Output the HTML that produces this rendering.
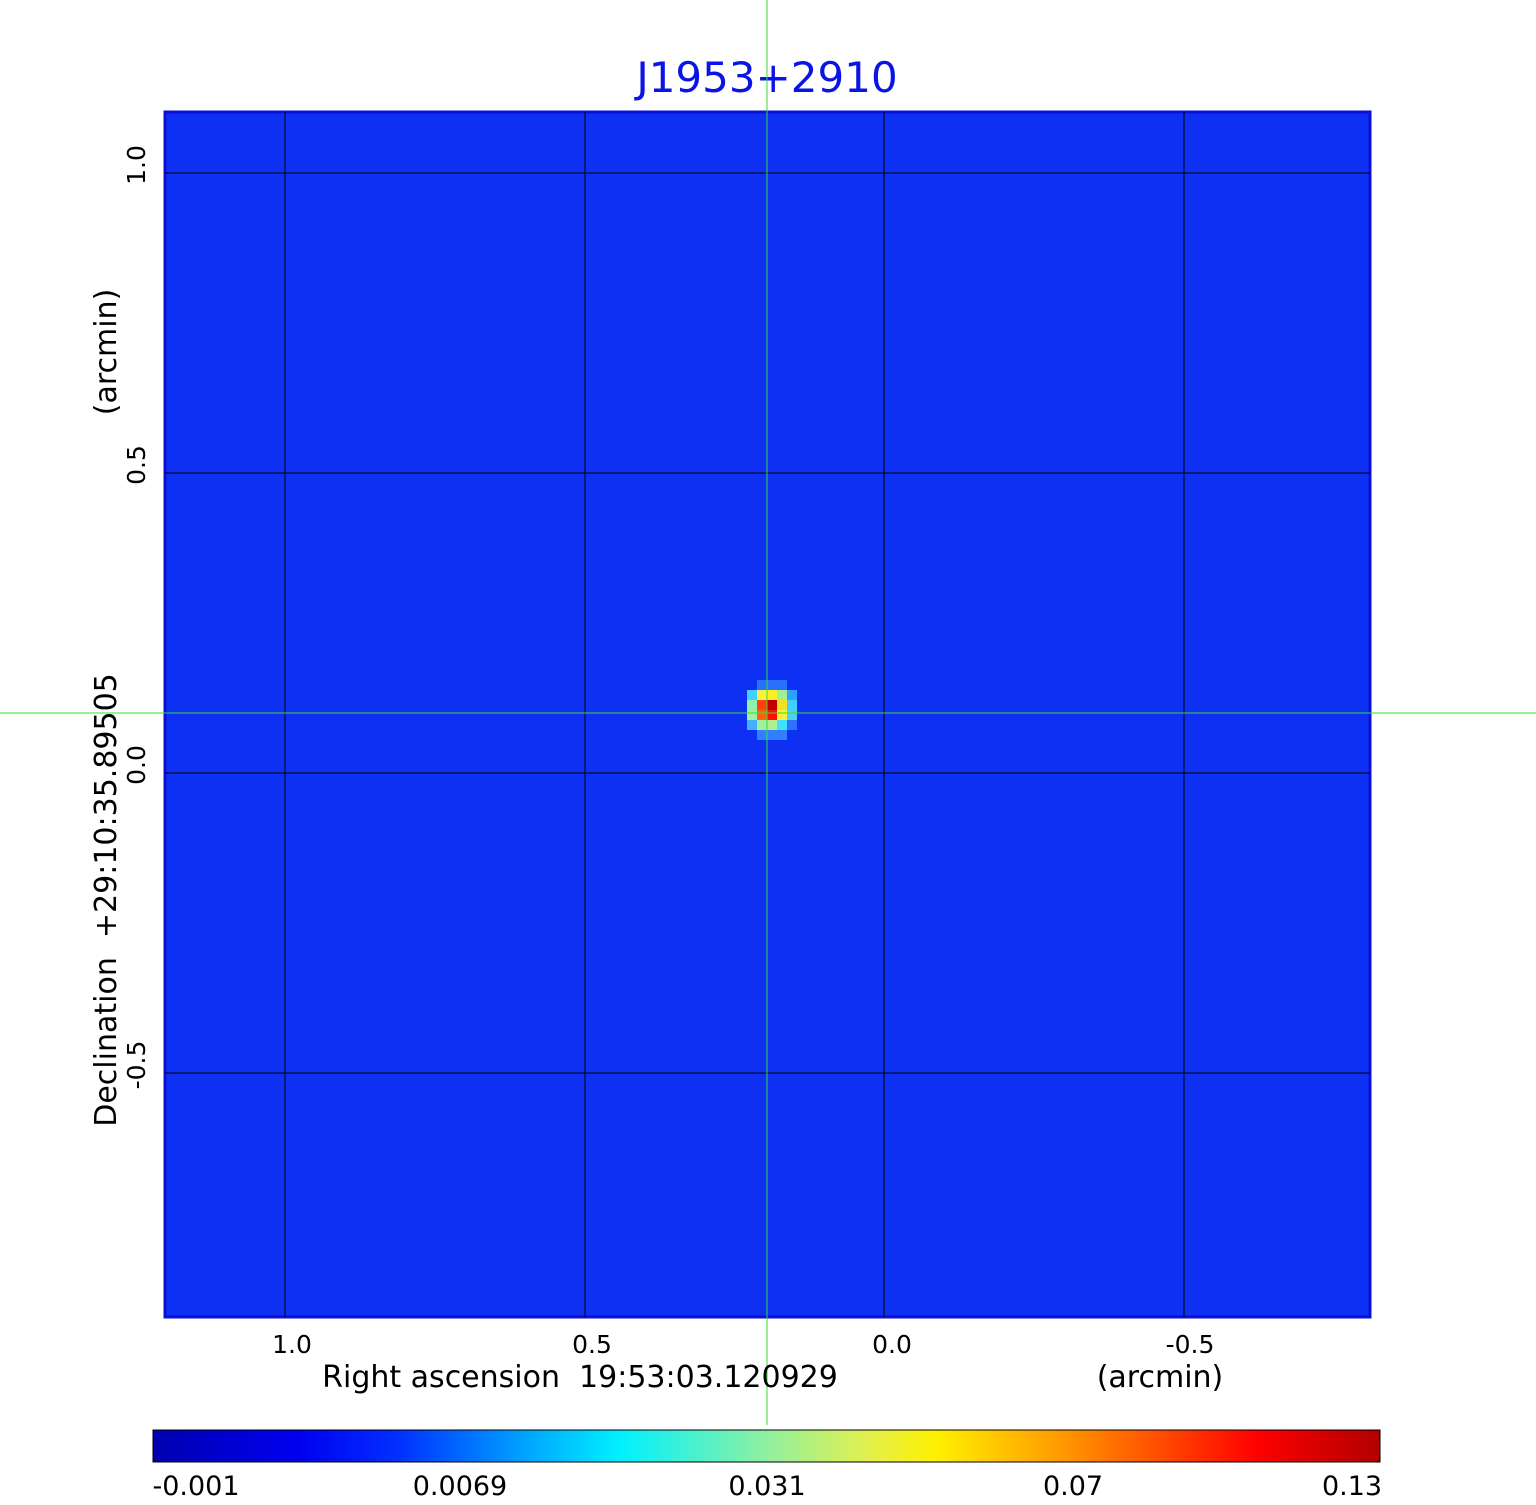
<!DOCTYPE html>
<html><head><style>
body{margin:0;background:#fff;}
svg text{font-family:"DejaVu Sans","Liberation Sans",sans-serif;white-space:pre;}
</style></head><body>
<svg width="1536" height="1500" xmlns="http://www.w3.org/2000/svg" xml:space="preserve">
<defs>
<linearGradient id="jet" x1="0" x2="1" y1="0" y2="0">
<stop offset="0" stop-color="#0000b0"/>
<stop offset="0.12" stop-color="#0000f0"/>
<stop offset="0.2" stop-color="#0030ff"/>
<stop offset="0.3" stop-color="#00a0ff"/>
<stop offset="0.38" stop-color="#00f0ff"/>
<stop offset="0.5" stop-color="#90f0a0"/>
<stop offset="0.58" stop-color="#e0f050"/>
<stop offset="0.64" stop-color="#fff000"/>
<stop offset="0.75" stop-color="#ff9000"/>
<stop offset="0.9" stop-color="#ff0000"/>
<stop offset="1" stop-color="#b00000"/>
</linearGradient>
</defs>
<text x="767" y="92" font-size="42" fill="#0a14e6" text-anchor="middle">J1953+2910</text>
<rect x="165" y="112" width="1205" height="1205" fill="#0d30f2" stroke="#0a10d8" stroke-width="3"/>
<g stroke="#000" stroke-width="1">
<line x1="285" y1="112" x2="285" y2="1317"/><line x1="585" y1="112" x2="585" y2="1317"/>
<line x1="884" y1="112" x2="884" y2="1317"/><line x1="1184" y1="112" x2="1184" y2="1317"/>
<line x1="165" y1="173" x2="1370" y2="173"/><line x1="165" y1="473" x2="1370" y2="473"/>
<line x1="165" y1="773" x2="1370" y2="773"/><line x1="165" y1="1073" x2="1370" y2="1073"/>
</g>
<g>
<rect x="757" y="680" width="30" height="10" fill="#2a70ff"/>
<rect x="747" y="690" width="10" height="10" fill="#3fd0ff"/><rect x="757" y="690" width="10" height="10" fill="#f8f040"/><rect x="767" y="690" width="10" height="10" fill="#f8f020"/><rect x="777" y="690" width="10" height="10" fill="#a0f090"/><rect x="787" y="690" width="10" height="10" fill="#30a0ff"/>
<rect x="747" y="700" width="10" height="10" fill="#90f0b0"/><rect x="757" y="700" width="10" height="10" fill="#ff4010"/><rect x="767" y="700" width="10" height="10" fill="#c00000"/><rect x="777" y="700" width="10" height="10" fill="#f0e020"/><rect x="787" y="700" width="10" height="10" fill="#40d0ff"/>
<rect x="747" y="710" width="10" height="10" fill="#a0f0a0"/><rect x="757" y="710" width="10" height="10" fill="#ff6010"/><rect x="767" y="710" width="10" height="10" fill="#ff1000"/><rect x="777" y="710" width="10" height="10" fill="#f8f040"/><rect x="787" y="710" width="10" height="10" fill="#50d0f0"/>
<rect x="747" y="720" width="10" height="10" fill="#40b0ff"/><rect x="757" y="720" width="10" height="10" fill="#a0f0a0"/><rect x="767" y="720" width="10" height="10" fill="#b0f090"/><rect x="777" y="720" width="10" height="10" fill="#40e0ff"/><rect x="787" y="720" width="10" height="10" fill="#3070ff"/>
<rect x="757" y="730" width="30" height="10" fill="#3080ff"/>
</g>
<g stroke="#30e030" stroke-width="1">
<line x1="767" y1="0" x2="767" y2="1425"/>
<line x1="0" y1="713" x2="1536" y2="713"/>
</g>
<g font-size="25" fill="#000" text-anchor="middle">
<text x="292" y="1353">1.0</text><text x="592" y="1353">0.5</text><text x="892" y="1353">0.0</text><text x="1190" y="1353">-0.5</text>
</g>
<text x="580" y="1387" font-size="30" text-anchor="middle">Right ascension  19:53:03.120929</text>
<text x="1160" y="1387" font-size="30" text-anchor="middle">(arcmin)</text>
<g font-size="25" text-anchor="middle">
<text transform="translate(145,165) rotate(-90)">1.0</text>
<text transform="translate(145,465) rotate(-90)">0.5</text>
<text transform="translate(145,765) rotate(-90)">0.0</text>
<text transform="translate(145,1065) rotate(-90)">-0.5</text>
</g>
<text transform="translate(116,352) rotate(-90)" font-size="30" text-anchor="middle">(arcmin)</text>
<text transform="translate(116,900) rotate(-90)" font-size="30" text-anchor="middle">Declination  +29:10:35.89505</text>
<rect x="153" y="1430" width="1227" height="32" fill="url(#jet)" stroke="#000" stroke-width="1"/>
<g font-size="27" text-anchor="middle">
<text x="196" y="1495">-0.001</text><text x="460" y="1495">0.0069</text><text x="767" y="1495">0.031</text><text x="1073" y="1495">0.07</text><text x="1352" y="1495">0.13</text>
</g>
</svg>
</body></html>
